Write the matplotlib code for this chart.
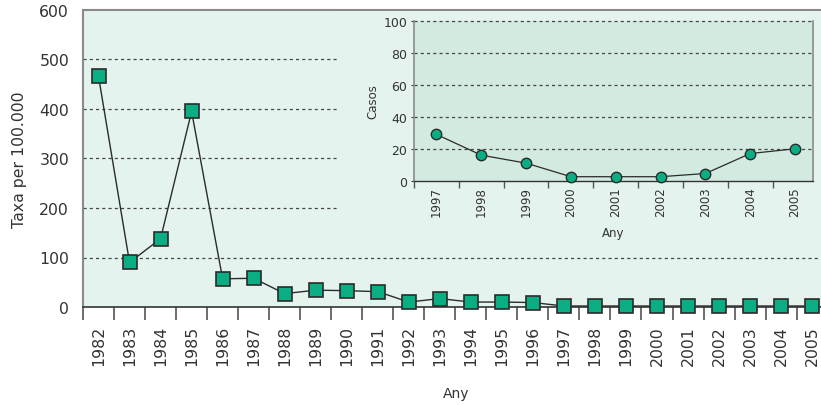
import numpy as np
import matplotlib.pyplot as plt
from matplotlib.ticker import FixedLocator

plt.rcParams['font.family'] = ['DejaVu Sans']

# main series: rate per 100.000, 1982-2005
years = [str(y) for y in range(1982, 2006)]
rate = [466, 90, 138, 395, 57, 58, 27, 34, 33, 31, 10, 17, 10, 10, 9,
        2, 2, 2, 2, 2, 2, 2, 2, 2]

# inset series: cases, 1997-2005
inset_years = [str(y) for y in range(1997, 2006)]
cases = [29, 16, 11, 2.5, 2.5, 2.5, 4.5, 17, 20]

bg_main = "#e5f3ee"
bg_inset = "#d3eae0"
mfill = "#0aae82"
edge = "#2b2b2b"
spine_gray = "#8a8a8a"
txt = "#333333"

W, H = 821, 406
fig = plt.figure(figsize=(W / 100, H / 100), dpi=100)

ax = fig.add_axes([83 / W, 1 - 308 / H, 1 - 83 / W + 0.01, (308 - 11) / H])
ax.set_facecolor(bg_main)
x = np.arange(len(years))
ax.plot(x, rate, "-", color=edge, lw=1, zorder=3)
ax.plot(x, rate, "s", ms=10.5, mfc=mfill, mec=edge, mew=1.2, zorder=4,
        clip_on=False)
ax.set_xlim(-0.5, len(years) - 0.45)
ax.set_ylim(0, 600)
ax.set_yticks(np.arange(0, 601, 100))
ax.tick_params(axis="y", length=0, pad=10, labelsize=11.3, colors=txt)
ax.set_xticks(x)
ax.set_xticklabels(years, rotation=90)
ax.tick_params(axis="x", which="major", length=0, pad=13, labelsize=11.3,
               colors=txt)
ax.xaxis.set_minor_locator(FixedLocator(np.arange(-0.5, len(years), 1)))
ax.tick_params(axis="x", which="minor", length=9, width=1.2, color="#555555")
for v in range(100, 600, 100):
    ax.axhline(v, color="#444444", lw=0.9, ls=(0, (2.5, 2.5)), zorder=1)
ax.spines["right"].set_visible(False)
ax.spines["top"].set_color(spine_gray)
ax.spines["top"].set_linewidth(1.5)
ax.spines["left"].set_color(spine_gray)
ax.spines["left"].set_linewidth(1.5)
ax.spines["bottom"].set_color(txt)
ax.spines["bottom"].set_linewidth(1.2)
ax.set_ylabel("Taxa per 100.000", fontsize=11.3, color=txt, labelpad=9)
ax.set_xlabel("Any", fontsize=10, color=txt, labelpad=15)

# cover box behind the inset hides the upper gridlines
box = fig.add_axes([337 / W, 1 - 252 / H, 1 - 337 / W, (252 - 12) / H])
box.set_facecolor(bg_main)
box.set_xticks([])
box.set_yticks([])
for s in box.spines.values():
    s.set_visible(False)

ins = fig.add_axes([414 / W, 1 - 181.7 / H, (813 - 414) / W, (181.7 - 22) / H])
ins.set_facecolor(bg_inset)
xi = np.arange(len(inset_years))
ins.plot(xi, cases, "-", color=edge, lw=0.9, zorder=3)
ins.plot(xi, cases, "o", ms=7.5, mfc=mfill, mec=edge, mew=1.0, zorder=4,
         clip_on=False)
ins.set_xlim(-0.5, len(inset_years) - 0.6)
ins.set_ylim(0, 100)
ins.set_yticks(np.arange(0, 101, 20))
ins.tick_params(axis="y", length=2, pad=3, labelsize=9, colors=txt)
ins.set_xticks(xi)
ins.set_xticklabels(inset_years, rotation=90)
ins.tick_params(axis="x", which="major", length=0, pad=4, labelsize=8.5,
                colors=txt)
ins.xaxis.set_minor_locator(FixedLocator(np.arange(-0.5, len(inset_years), 1)))
ins.tick_params(axis="x", which="minor", length=5, width=1, color="#555555")
for v in range(20, 101, 20):
    ins.axhline(v, color="#444444", lw=0.9, ls=(0, (2.5, 2.5)), zorder=1,
                clip_on=False)
ins.spines["top"].set_visible(False)
ins.spines["left"].set_color(spine_gray)
ins.spines["left"].set_linewidth(1.2)
ins.spines["right"].set_color(spine_gray)
ins.spines["right"].set_linewidth(1.2)
ins.spines["bottom"].set_color(txt)
ins.spines["bottom"].set_linewidth(1.0)
ins.set_ylabel("Casos", fontsize=8.5, color=txt, labelpad=3)
ins.set_xlabel("Any", fontsize=8.5, color=txt, labelpad=7)

fig.savefig("out.png", dpi=100)
